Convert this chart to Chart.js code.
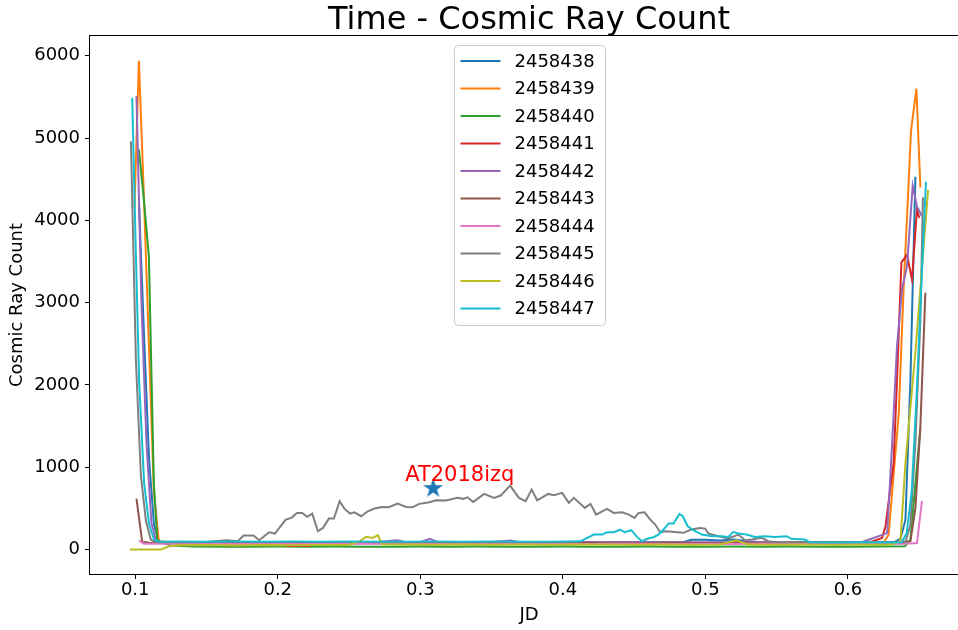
<!DOCTYPE html>
<html>
<head>
<meta charset="utf-8">
<script src="https://cdn.jsdelivr.net/npm/chart.js"></script>
<style>
html, body { margin: 0; padding: 0; background: #fff; overflow: hidden; }
#wrap { width: 980px; height: 630px; }
</style>
</head>
<body>
<div id="wrap"><canvas id="cosmic-chart" width="980" height="630"></canvas></div>
<script>
// nights (legend labels) and their colours
const nights = ["2458438", "2458439", "2458440", "2458441", "2458442",
                "2458443", "2458444", "2458445", "2458446", "2458447"];
const colors = ["#1f77b4", "#ff7f0e", "#2ca02c", "#d62728", "#9467bd",
                "#8c564b", "#e377c2", "#7f7f7f", "#bcbd22", "#17becf"];

const xTicks = [0.1, 0.2, 0.3, 0.4, 0.5, 0.6];
const yTicks = [0, 1000, 2000, 3000, 4000, 5000, 6000];

// JD fraction / cosmic ray count per night
const jd38 = [0.1027, 0.1062, 0.1097, 0.1132, 0.1167, 0.130, 0.150, 0.170, 0.190, 0.210,
              0.230, 0.250, 0.270, 0.290, 0.310, 0.330, 0.350, 0.370, 0.390, 0.410,
              0.430, 0.450, 0.470, 0.485, 0.490, 0.500, 0.510, 0.520, 0.530, 0.540,
              0.560, 0.580, 0.600, 0.620, 0.633, 0.6368, 0.6403, 0.6438, 0.6473];
const cr38 = [4200, 2600, 1100, 300, 95, 88, 85, 90, 92, 86,
              90, 84, 88, 91, 86, 89, 85, 92, 87, 90,
              88, 86, 89, 92, 120, 118, 110, 122, 100, 90,
              88, 92, 86, 90, 95, 130, 360, 2050, 4530];

const jd39 = [0.0995, 0.1026, 0.1061, 0.1096, 0.1131, 0.1166, 0.130, 0.150, 0.170, 0.190,
              0.210, 0.230, 0.250, 0.270, 0.290, 0.310, 0.330, 0.350, 0.370, 0.390,
              0.410, 0.430, 0.450, 0.470, 0.490, 0.510, 0.530, 0.550, 0.570, 0.590,
              0.610, 0.625, 0.6285, 0.632, 0.6356, 0.6391, 0.6421, 0.6442, 0.648, 0.6508];
const cr39 = [4150, 5940, 4300, 2500, 700, 100, 80, 82, 78, 84,
              80, 76, 82, 79, 83, 80, 78, 84, 81, 79,
              83, 80, 82, 78, 84, 80, 77, 82, 80, 83,
              79, 85, 180, 900, 1650, 3200, 4290, 5080, 5600, 4400];

const jd40 = [0.1026, 0.1061, 0.1096, 0.1131, 0.1155, 0.125, 0.140, 0.160, 0.180, 0.200,
              0.220, 0.240, 0.260, 0.280, 0.300, 0.320, 0.340, 0.360, 0.380, 0.400,
              0.420, 0.440, 0.460, 0.480, 0.500, 0.520, 0.540, 0.560, 0.580, 0.600,
              0.620, 0.640, 0.6438, 0.6508];
const cr40 = [4860, 4250, 3560, 800, 110, 50, 38, 35, 33, 36,
              34, 37, 35, 33, 36, 34, 38, 35, 33, 37,
              35, 34, 36, 33, 35, 38, 34, 36, 33, 35,
              37, 40, 120, 1480];

const jd41 = [0.2057, 0.210, 0.215, 0.222, 0.226, 0.240, 0.260, 0.280, 0.300, 0.320,
              0.340, 0.360, 0.380, 0.400, 0.420, 0.440, 0.460, 0.480, 0.500, 0.520,
              0.540, 0.560, 0.580, 0.600, 0.615, 0.6239, 0.6263, 0.632, 0.6344, 0.6375,
              0.6414, 0.6449, 0.6484, 0.650];
const cr41 = [45, 42, 48, 44, 75, 80, 78, 82, 80, 77,
              83, 79, 81, 78, 82, 80, 79, 83, 80, 78,
              82, 80, 84, 81, 85, 140, 280, 1050, 2060, 3490,
              3580, 3280, 4130, 4030];

const jd42 = [0.1009, 0.1044, 0.1079, 0.1114, 0.1149, 0.130, 0.150, 0.170, 0.190, 0.210,
              0.230, 0.250, 0.270, 0.284, 0.290, 0.300, 0.3067, 0.312, 0.330, 0.350,
              0.3634, 0.370, 0.390, 0.410, 0.430, 0.450, 0.470, 0.490, 0.510, 0.530,
              0.550, 0.570, 0.590, 0.610, 0.6275, 0.6309, 0.6344, 0.6379, 0.6414, 0.6454,
              0.6484, 0.6519];
const cr42 = [5510, 3000, 1300, 320, 95, 90, 88, 92, 89, 91,
              87, 90, 93, 113, 90, 88, 130, 92, 89, 91,
              110, 90, 88, 92, 89, 91, 87, 90, 88, 92,
              89, 91, 90, 92, 200, 1255, 2470, 3160, 3440, 4420,
              4170, 4050];

const jd43 = [0.1009, 0.1049, 0.110, 0.130, 0.150, 0.170, 0.190, 0.210, 0.230, 0.250,
              0.270, 0.290, 0.310, 0.330, 0.350, 0.370, 0.390, 0.410, 0.430, 0.450,
              0.470, 0.490, 0.510, 0.530, 0.550, 0.570, 0.590, 0.610, 0.630, 0.6438,
              0.6473, 0.6508, 0.6543];
const cr43 = [620, 95, 82, 80, 84, 81, 79, 83, 80, 82,
              78, 84, 80, 81, 79, 83, 80, 82, 78, 81,
              84, 80, 79, 83, 81, 78, 82, 80, 84, 100,
              500, 1500, 3120];

const jd44 = [0.1027, 0.106, 0.120, 0.140, 0.160, 0.180, 0.200, 0.220, 0.240, 0.260,
              0.280, 0.300, 0.320, 0.340, 0.360, 0.380, 0.400, 0.420, 0.440, 0.460,
              0.480, 0.500, 0.520, 0.540, 0.560, 0.580, 0.600, 0.620, 0.640, 0.6484,
              0.6519];
const cr44 = [110, 72, 70, 68, 72, 69, 71, 67, 70, 73,
              68, 71, 69, 72, 70, 67, 71, 69, 72, 70,
              68, 71, 69, 73, 70, 68, 71, 69, 72, 80,
              590];

const jd45 = [0.0970, 0.1005, 0.1040, 0.1075, 0.1110, 0.1145, 0.130, 0.150, 0.164, 0.172,
              0.176, 0.183, 0.187, 0.192, 0.194, 0.198, 0.2056, 0.2096, 0.2135, 0.2172,
              0.2207, 0.2242, 0.2282, 0.2317, 0.2359, 0.2394, 0.2434, 0.2469, 0.2508, 0.2538,
              0.2585, 0.2632, 0.2678, 0.2732, 0.2778, 0.2841, 0.2900, 0.2946, 0.2993, 0.3063,
              0.3110, 0.3180, 0.3261, 0.3301, 0.3331, 0.3371, 0.3448, 0.3517, 0.3564, 0.3630,
              0.3692, 0.3739, 0.3781, 0.3820, 0.3897, 0.3937, 0.3995, 0.4042, 0.4077, 0.4154,
              0.4194, 0.4233, 0.4310, 0.4357, 0.4415, 0.4462, 0.4503, 0.4531, 0.4573, 0.4613,
              0.4648, 0.4683, 0.4718, 0.4764, 0.4846, 0.4900, 0.4963, 0.4998, 0.5021, 0.5091,
              0.5161, 0.5231, 0.5278, 0.5324, 0.5394, 0.5441, 0.550, 0.570, 0.590, 0.610,
              0.630, 0.6403, 0.6438, 0.6473, 0.6508, 0.6526];
const cr45 = [4960, 2300, 900, 350, 120, 90, 88, 92, 113, 100,
              170, 170, 113, 182, 210, 194, 364, 385, 445, 445,
              397, 437, 222, 263, 376, 376, 587, 494, 437, 453,
              405, 465, 498, 518, 514, 559, 518, 514, 555, 575,
              599, 595, 628, 616, 635, 579, 676, 628, 656, 777,
              628, 587, 729, 599, 676, 660, 689, 567, 628, 506,
              555, 425, 494, 445, 453, 425, 385, 445, 453, 364,
              304, 210, 222, 215, 203, 243, 263, 255, 194, 162,
              134, 182, 113, 121, 142, 101, 90, 88, 92, 89,
              91, 90, 300, 1300, 2800, 4280];

const jd46 = [0.0963, 0.118, 0.124, 0.130, 0.150, 0.170, 0.190, 0.210, 0.230, 0.250,
              0.2573, 0.262, 0.2667, 0.2702, 0.2732, 0.290, 0.310, 0.330, 0.350, 0.370,
              0.390, 0.410, 0.430, 0.450, 0.470, 0.490, 0.510, 0.522, 0.530, 0.550,
              0.570, 0.590, 0.610, 0.630, 0.6368, 0.6403, 0.6473, 0.6562];
const cr46 = [0, 0, 40, 52, 55, 50, 56, 52, 55, 58,
              100, 154, 142, 174, 65, 60, 58, 62, 59, 61,
              58, 62, 60, 58, 61, 59, 62, 113, 60, 58,
              62, 59, 61, 60, 100, 1050, 2400, 4370];

const jd47 = [0.0979, 0.1004, 0.1028, 0.1063, 0.1098, 0.1133, 0.117, 0.130, 0.150, 0.170,
              0.190, 0.210, 0.230, 0.250, 0.270, 0.290, 0.310, 0.330, 0.350, 0.370,
              0.390, 0.4124, 0.4217, 0.4275, 0.4310, 0.4357, 0.4403, 0.4434, 0.4480, 0.4520,
              0.4555, 0.4597, 0.4636, 0.4671, 0.4706, 0.4741, 0.4776, 0.4818, 0.4841, 0.4876,
              0.4916, 0.4974, 0.5044, 0.5114, 0.5161, 0.5196, 0.5231, 0.5289, 0.5347, 0.5417,
              0.5487, 0.5569, 0.5604, 0.5697, 0.5732, 0.590, 0.610, 0.630, 0.6377, 0.6412,
              0.6447, 0.6482, 0.6517, 0.6547];
const cr47 = [5490, 3640, 2030, 800, 300, 120, 95, 97, 95, 98,
              94, 97, 95, 99, 96, 94, 97, 95, 98, 94,
              96, 100, 182, 182, 210, 210, 243, 210, 235, 154,
              101, 134, 150, 182, 243, 316, 316, 433, 405, 283,
              235, 182, 162, 162, 154, 215, 194, 182, 154, 162,
              154, 162, 130, 121, 89, 85, 88, 86, 90, 200,
              700, 1900, 3300, 4470];

const jdSeries = [jd38, jd39, jd40, jd41, jd42, jd43, jd44, jd45, jd46, jd47];
const crSeries = [cr38, cr39, cr40, cr41, cr42, cr43, cr44, cr45, cr46, cr47];

// transient marker + label
const starJD = [0.309];
const starCount = [743];
const noteText = "AT2018izq";
const noteJD = 0.2894;
const noteCount = 838;

const titleText = "Time - Cosmic Ray Count";
const FONT = '"DejaVu Sans", "Liberation Sans", sans-serif';

// filled five point star like matplotlib's '*'
function makeStar(r, color) {
  const c = document.createElement('canvas');
  const s = Math.ceil(r * 2 + 2);
  c.width = s; c.height = s;
  const g = c.getContext('2d');
  g.fillStyle = color;
  g.beginPath();
  for (let k = 0; k < 10; k++) {
    const rad = k % 2 === 0 ? r : r * 0.382;
    const ang = -Math.PI / 2 + k * Math.PI / 5;
    const px = s / 2 + rad * Math.cos(ang), py = s / 2 + rad * Math.sin(ang);
    if (k === 0) g.moveTo(px, py); else g.lineTo(px, py);
  }
  g.closePath();
  g.fill();
  return c;
}

const datasets = nights.map((night, i) => ({
  label: night,
  data: jdSeries[i].map((v, k) => ({ x: v, y: crSeries[i][k] })),
  borderColor: colors[i],
  backgroundColor: colors[i],
  borderWidth: 2,
  pointRadius: 0,
  tension: 0,
  fill: false,
  order: nights.length - i
}));

datasets.push({
  label: noteText,
  data: starJD.map((v, k) => ({ x: v, y: starCount[k] })),
  showLine: false,
  pointStyle: makeStar(10.5, "#1f77b4"),
  pointRadius: 11,
  order: 0
});

const overlay = {
  id: 'overlay',
  afterDatasetsDraw(chart) {
    const { ctx, chartArea: a, scales: { x, y } } = chart;
    ctx.save();

    // label for the transient
    ctx.fillStyle = 'red';
    ctx.font = '21px ' + FONT;
    ctx.textAlign = 'left';
    ctx.textBaseline = 'alphabetic';
    ctx.fillText(noteText, x.getPixelForValue(noteJD), y.getPixelForValue(noteCount));

    // legend box, upper center
    const boxW = 151, boxH = 280;
    const bx = Math.round((a.left + a.right) / 2 - boxW / 2) + 0.5;
    const by = a.top + 9.5;
    ctx.fillStyle = 'rgba(255,255,255,0.8)';
    ctx.strokeStyle = '#cccccc';
    ctx.lineWidth = 1;
    ctx.beginPath();
    ctx.roundRect(bx, by, boxW, boxH, 4);
    ctx.fill();
    ctx.stroke();
    ctx.font = '18px ' + FONT;
    ctx.textBaseline = 'middle';
    nights.forEach((night, i) => {
      const ry = by + 15.5 + i * 27.5;
      ctx.strokeStyle = colors[i];
      ctx.lineWidth = 2;
      ctx.beginPath();
      ctx.moveTo(bx + 6, ry);
      ctx.lineTo(bx + 46, ry);
      ctx.stroke();
      ctx.fillStyle = '#000';
      ctx.fillText(night, bx + 60, ry + 1);
    });

    // axes frame
    ctx.strokeStyle = '#000';
    ctx.lineWidth = 1;
    ctx.strokeRect(a.left - 0.5, a.top - 0.5, a.right - a.left + 1, a.bottom - a.top + 1);

    // title
    ctx.fillStyle = '#000';
    ctx.font = '32px ' + FONT;
    ctx.textAlign = 'center';
    ctx.textBaseline = 'alphabetic';
    ctx.fillText(titleText, (a.left + a.right) / 2, 29);
    ctx.restore();
  }
};

new Chart(document.getElementById("cosmic-chart"), {
  type: 'line',
  data: { datasets: datasets },
  options: {
    responsive: false,
    animation: false,
    layout: { padding: { left: 0, right: 11, top: 36, bottom: 0 } },
    plugins: {
      legend: { display: false },
      title: { display: false },
      tooltip: { enabled: false }
    },
    scales: {
      x: {
        type: 'linear',
        min: 0.0683,
        max: 0.6842,
        afterFit: (s) => { s.height = 56; },
        afterBuildTicks: (s) => { s.ticks = xTicks.map(v => ({ value: v })); },
        grid: { drawOnChartArea: false, drawTicks: true, tickLength: 5, color: '#000' },
        border: { display: false },
        ticks: {
          font: { family: FONT, size: 18 },
          color: '#000',
          padding: 1,
          maxRotation: 0,
          callback: (v) => v.toFixed(1)
        },
        title: {
          display: true,
          text: 'JD',
          color: '#000',
          font: { family: FONT, size: 18 },
          padding: { top: 0, bottom: 4 }
        }
      },
      y: {
        type: 'linear',
        min: -297,
        max: 6240,
        afterFit: (s) => { s.width = 90; },
        afterBuildTicks: (s) => { s.ticks = yTicks.map(v => ({ value: v })); },
        grid: { drawOnChartArea: false, drawTicks: true, tickLength: 5, color: '#000' },
        border: { display: false },
        ticks: {
          font: { family: FONT, size: 18 },
          color: '#000',
          padding: 5,
          callback: (v) => String(v)
        },
        title: {
          display: true,
          text: 'Cosmic Ray Count',
          color: '#000',
          font: { family: FONT, size: 18 },
          padding: { top: 7, bottom: 0 }
        }
      }
    }
  },
  plugins: [overlay]
});
</script>
</body>
</html>
